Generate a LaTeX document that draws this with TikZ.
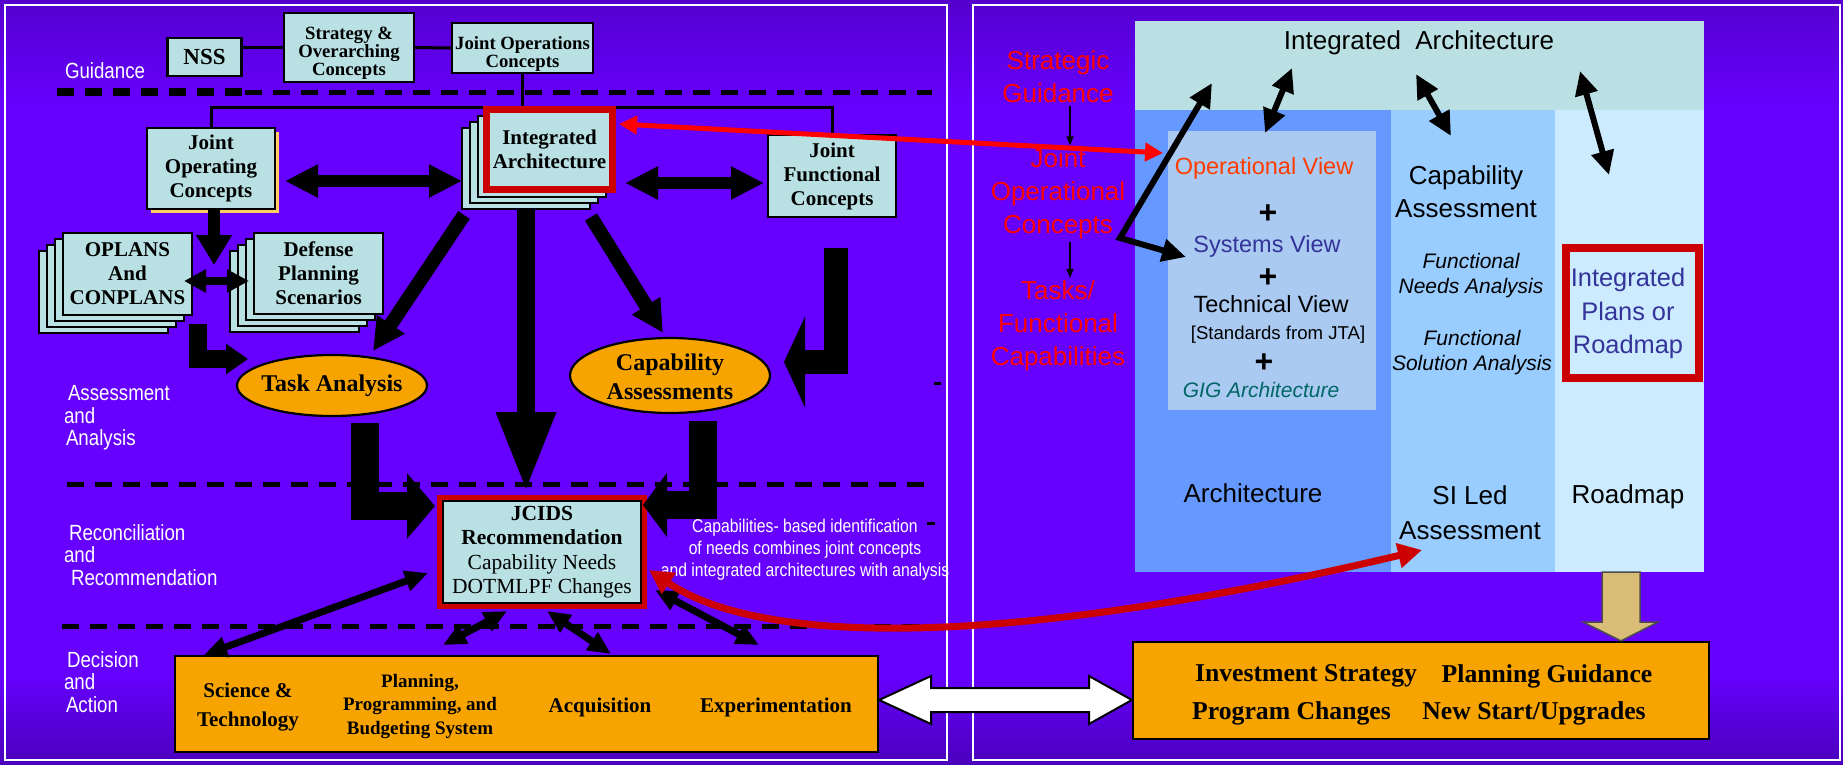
\documentclass[tikz,border=0pt]{standalone}
\usepackage{fontspec}
\setmainfont{Liberation Serif}
\setsansfont{Liberation Sans}
\newfontfamily\narrowsans[FakeStretch=0.85]{Liberation Sans}
\usetikzlibrary{arrows.meta,shapes.geometric,fit}

\definecolor{bgtop}{RGB}{85,0,205}
\definecolor{bgmid}{RGB}{102,0,255}
\definecolor{bgbot}{RGB}{75,0,188}
\definecolor{boxcyan}{RGB}{185,224,227}
\definecolor{boxorange}{RGB}{247,164,0}
\definecolor{shadowtan}{RGB}{255,204,102}
\definecolor{framered}{RGB}{204,0,0}
\definecolor{linkred}{RGB}{255,0,0}
\definecolor{headcyan}{RGB}{187,224,227}
\definecolor{colarch}{RGB}{102,153,255}
\definecolor{colarchin}{RGB}{170,202,242}
\definecolor{colsi}{RGB}{153,204,255}
\definecolor{colroad}{RGB}{204,235,255}
\definecolor{arrowtan}{RGB}{217,188,117}
\definecolor{opviewred}{RGB}{255,60,0}
\definecolor{sysblue}{RGB}{51,51,153}
\definecolor{gigteal}{RGB}{0,102,102}

\pgfdeclareverticalshading{slideshade}{100bp}{color(0bp)=(bgbot); color(25bp)=(bgbot); color(31bp)=(bgmid);
  color(68bp)=(bgmid); color(75bp)=(bgtop); color(100bp)=(bgtop)}

\newcommand{\nssfont}{\fontsize{23}{24}\selectfont\bfseries}
\newcommand{\topfont}{\fontsize{18.7}{18}\selectfont\bfseries}
\newcommand{\boxfont}{\fontsize{21}{24}\selectfont\bfseries}
\newcommand{\ovalfont}{\fontsize{24}{29}\selectfont\bfseries}
\newcommand{\jcidsfont}{\fontsize{21.5}{24.5}\selectfont}
\newcommand{\actfont}{\fontsize{21}{29}\selectfont\bfseries}
\newcommand{\ppbsfont}{\fontsize{19}{23.5}\selectfont\bfseries}
\newcommand{\investfont}{\fontsize{25.7}{37}\selectfont\bfseries}
\newcommand{\labelfont}{\narrowsans\fontsize{22}{22.5}\selectfont}
\newcommand{\notefont}{\narrowsans\fontsize{18.5}{22}\selectfont}
\newcommand{\bigsans}{\sffamily\fontsize{26}{33}\selectfont}
\newcommand{\viewfont}{\sffamily\fontsize{23.5}{28}\selectfont}
\newcommand{\smallsans}{\sffamily\fontsize{18.6}{22}\selectfont}
\newcommand{\itsans}{\sffamily\itshape\fontsize{21}{25}\selectfont}
\newcommand{\plusfont}{\sffamily\bfseries\fontsize{32}{32}\selectfont}

\tikzset{every picture/.style={line width=2pt}}
\tikzset{
  lightbox/.style={draw=black, fill=boxcyan, line width=2.2pt, inner sep=0pt, align=center},
  sheet/.style={draw=black, fill=boxcyan, line width=2pt},
  boxtext/.style={inner sep=0pt, align=center},
  orangebox/.style={draw=black, fill=boxorange, line width=2.2pt, inner sep=0pt},
  orangeoval/.style={ellipse, draw=black, fill=boxorange, line width=2.2pt, inner sep=0pt},
  sectiondash/.style={line width=5pt, dash pattern=on 17pt off 11pt},
  panel/.style={draw=white, line width=2pt},
  whitelabel/.style={text=white, font=\labelfont, align=left, inner sep=0pt, anchor=west},
  thinlink/.style={line width=3pt},
  bigboth/.style={line width=12pt, >={Triangle[length=33pt,width=31pt]}, <->},
  bigdown/.style={line width=12pt, -{Triangle[length=30pt,width=34pt]}},
  slimboth/.style={line width=8pt, >={Triangle[length=22pt,width=22pt]}, <->},
  diagarrow/.style={line width=14pt, -{Triangle[length=32pt,width=31pt]}},
  tallarrow/.style={line width=18pt, -{Triangle[length=80pt,width=55pt]}},
  jointarrow/.style={line width=7pt, >={Triangle[length=23pt,width=20pt]}, <->},
  viewarrow/.style={line width=6pt, >={Triangle[length=24pt,width=22pt]}, <->},
  tinyarrow/.style={line width=1.5pt, -{Triangle[length=9pt,width=7pt]}},
  redlink/.style={draw=linkred, line width=5pt, >={Triangle[length=18pt,width=18pt]}, <->},
  redcurve/.style={draw=framered, line width=7pt, >={Triangle[length=24pt,width=24pt]}, <->},
  redlabel/.style={text=linkred, font=\bigsans, align=center, inner sep=2pt},
  paneltext/.style={font=\bigsans, align=center, inner sep=0pt}
}

\begin{document}
\begin{tikzpicture}[x=1pt,y=1pt,yscale=-1]
\useasboundingbox (0,0) rectangle (1843,764);

%Shape: Background
\shade[shading=slideshade] (0,0) rectangle (1843,764);
%Shape: Panels
\draw[panel] (5,5) rectangle (947,760);
\draw[panel] (973,5) rectangle (1840,760);

%Straight Lines (section dividers)
\draw[sectiondash, line width=8pt] (57,92) -- (245,92);
\draw[sectiondash] (245,92) -- (932,92);
\draw[sectiondash] (67,484) -- (924,484);
\draw[sectiondash] (62,626) -- (928,626);

% Text Node (section labels)
\node[whitelabel] (guid) at (64,71) {Guidance};
\node[whitelabel] (assess) at (63,418) {\hspace*{4pt}Assessment\\and\\\hspace*{2pt}Analysis};
\node[whitelabel] (recon) at (63,555) {\hspace*{5pt}Reconciliation\\and\\\hspace*{7pt}Recommendation};
\node[whitelabel] (decis) at (63,682) {\hspace*{3pt}Decision\\and\\\hspace*{2pt}Action};

%Shape: Guidance boxes
\node[lightbox, minimum width=74pt, minimum height=38pt, font=\nssfont] (nss) at (204.5,57) {NSS};
\node[lightbox, minimum width=130pt, minimum height=69pt] (strat) at (349,47.5) {};
\node[boxtext, font=\topfont] at (349,53) {Strategy \&\\Overarching\\Concepts};
\node[lightbox, minimum width=141pt, minimum height=50pt] (jops) at (522.5,48) {};
\node[boxtext, font=\topfont] at (522.5,54) {Joint Operations\\Concepts};

%Straight Lines (guidance links)
\draw[thinlink] (strat.west -| nss.east) -- (strat.west);
\draw[thinlink] (strat.east) -- (jops.west);
\draw[thinlink] (jops.south) -- ++(0,33) coordinate (hub);

%Shape: Joint Operating Concepts
\fill[shadowtan] (151,132) rectangle (279,213);
\node[lightbox, minimum width=128pt, minimum height=81pt, font=\boxfont] (jopc) at (211,168.5) {Joint\\Operating\\Concepts};
%Shape: Joint Functional Concepts
\node[lightbox, minimum width=128pt, minimum height=82pt, font=\boxfont] (jfc) at (832,176) {Joint\\Functional\\Concepts};
\draw[thinlink] (jopc.north) |- (hub) -| (jfc.north);

%Shape: Integrated Architecture stack
\foreach \k in {3,2,1}
  \draw[sheet] (486-8*\k,110+6*\k) rectangle ++(128,81);
\node[lightbox, draw=framered, line width=7pt, minimum width=126pt, minimum height=80pt, font=\boxfont] (ia) at (549.5,149.5) {Integrated\\Architecture};

%Shape: OPLANS stack
\foreach \k in {3,2,1}
  \draw[sheet] (63-8*\k,233+6*\k) rectangle ++(129,82);
\node[lightbox, minimum width=129pt, minimum height=82pt, font=\boxfont] (oplans) at (127.5,274) {OPLANS\\And\\CONPLANS};
%Shape: Defense Planning Scenarios stack
\foreach \k in {3,2,1}
  \draw[sheet] (254-8*\k,233+6*\k) rectangle ++(129,81);
\node[lightbox, minimum width=129pt, minimum height=81pt, font=\boxfont] (dps) at (318.5,273.5) {Defense\\Planning\\Scenarios};

%Shape: Ellipses
\node[orangeoval, minimum width=190pt, minimum height=61pt] (task) at (332,385.5) {};
\node[boxtext, font=\ovalfont] at (task) {Task Analysis};
\node[orangeoval, minimum width=200pt, minimum height=75pt] (capa) at (670,375.5) {};
\node[boxtext, font=\ovalfont] at (670,377) {Capability\\Assessments};

%Shape: JCIDS
\node[lightbox, line width=1.5pt, minimum width=198pt, minimum height=102pt, font=\jcidsfont] (jcids) at (542,552)
  {\textbf{JCIDS}\\\textbf{Recommendation}\\Capability Needs\\DOTMLPF Changes};
\node[fit=(jcids), inner sep=3pt, draw=framered, line width=5pt] (jcidsframe) {};

%Shape: Decision and Action box
\node[orangebox, minimum width=703pt, minimum height=96pt] (decide) at (526.5,704) {};
\node[boxtext, font=\actfont] (sandt) at (248,707) {Science \&\\Technology};
\node[boxtext, font=\ppbsfont] (ppbs) at (420,706) {Planning,\\Programming, and\\Budgeting System};
\node[boxtext, font=\actfont] (acq) at (600,707) {Acquisition};
\node[boxtext, font=\actfont] (expt) at (776,707) {Experimentation};

% Text Node
\node[boxtext, text=white, font=\notefont] (capnote) at (805,550) {Capabilities- based identification\\of needs combines joint concepts\\and integrated architectures with analysis};

%Shape: small marks
\fill (934,381.5) rectangle (941,384.5);
\fill (927,521.5) rectangle (935,524.5);

%Straight Lines (block arrows)
\coordinate (jopcR) at (285,181);   \coordinate (iaL) at (462,181);
\coordinate (iaR) at (625,183);     \coordinate (jfcL) at (764,183);
\coordinate (jopcB) at (214,210);   \coordinate (jopcTip) at (214,265);
\coordinate (oplR) at (184,281);    \coordinate (dpsL) at (249,281);
\coordinate (oplB) at (198,324);    \coordinate (taskL) at (248,359);
\coordinate (iaBL) at (464,215);    \coordinate (taskTop) at (373,351);
\coordinate (iaB) at (526,210);     \coordinate (jcidsTop) at (526,492);
\coordinate (iaBR) at (591,217);    \coordinate (capaTop) at (663,333);
\coordinate (jfcB) at (835.5,248);  \coordinate (capaR) at (784,362);
\coordinate (taskB) at (364.5,423); \coordinate (jcidsL) at (435,506);
\coordinate (capaB) at (702.5,421); \coordinate (jcidsR) at (643,505);

\draw[bigboth] (jopcR) -- (iaL);
\draw[bigboth] (iaR) -- (jfcL);
\draw[bigdown] (jopcB) -- (jopcTip);
\draw[slimboth] (oplR) -- (dpsL);
\draw[line width=18pt, -{Triangle[length=22pt,width=29pt]}] (oplB) |- (taskL);
\draw[diagarrow] (iaBL) -- (taskTop);
\draw[tallarrow] (iaB) -- (jcidsTop);
\draw[diagarrow] (iaBR) -- (capaTop);
\draw[line width=24pt, -{Triangle[length=21pt,width=90pt]}] (jfcB) |- (capaR);
\draw[line width=28pt, -{Triangle[length=28pt,width=64pt]}] (taskB) |- (jcidsL);
\draw[line width=28pt, -{Triangle[length=24pt,width=63pt]}] (capaB) |- (jcidsR);

%Straight Lines (JCIDS to action)
\draw[jointarrow] (428,573) coordinate (d1a) -- (204,655) coordinate (d1b);
\draw[jointarrow] (507,611) coordinate (d2a) -- (443,645) coordinate (d2b);
\draw[jointarrow] (547,611) coordinate (d3a) -- (611,654) coordinate (d3b);
\draw[jointarrow] (655,590) coordinate (d4a) -- (759,645) coordinate (d4b);

%Shape: Right panel columns
\fill[headcyan] (1135,21) rectangle (1704,110);
\fill[colarch] (1135,110) rectangle (1391,572);
\fill[colsi] (1391,110) rectangle (1555,572);
\fill[colroad] (1555,110) rectangle (1704,572);
\fill[colarchin] (1168,131) rectangle (1376,410);

% Text Node (right panel)
\node[paneltext] (iahead) at (1419,43) {Integrated\ \ Architecture};
\node[redlabel] (sg) at (1058,76.5) {Strategic\\Guidance};
\node[redlabel] (jocl) at (1058,193.5) {Joint\\Operational\\Concepts};
\node[redlabel] (tfc) at (1058,326) {Tasks/\\Functional\\Capabilities};
\draw[tinyarrow] ([xshift=12pt]sg.south) -- ([xshift=12pt]jocl.north);
\draw[tinyarrow] ([xshift=12pt]jocl.south) -- ([xshift=12pt]tfc.north);

\node[boxtext, text=opviewred, font=\viewfont] (opview) at (1264,168) {Operational View};
\node[boxtext, font=\plusfont] (plusa) at (1268,214) {+};
\node[boxtext, text=sysblue, font=\viewfont] (sysview) at (1267,246) {Systems View};
\node[boxtext, font=\plusfont] (plusb) at (1268,278) {+};
\node[boxtext, font=\viewfont] (techview) at (1271,304) {Technical View};
\node[boxtext, font=\smallsans] (jta) at (1278,335) {[Standards from JTA]};
\node[boxtext, font=\plusfont] (plusc) at (1264,363) {+};
\node[boxtext, text=gigteal, font=\itsans] (gig) at (1261,390) {GIG Architecture};

\node[boxtext, font=\bigsans] (capassess) at (1466,191.5) {Capability\\Assessment};
\node[boxtext, font=\itsans] (fna) at (1471,275.5) {Functional\\Needs Analysis};
\node[boxtext, font=\itsans] (fsa) at (1472,353) {Functional\\Solution Analysis};

\node[lightbox, fill=colroad, draw=framered, line width=8pt, minimum width=133pt, minimum height=130pt] (plans) at (1632.5,313) {};
\node[boxtext, text=sysblue, font={\sffamily\fontsize{25.4}{33.5}\selectfont}] at (1628,313.5) {Integrated\\Plans or\\Roadmap};

\node[paneltext] (archlbl) at (1253,493) {Architecture};
\node[paneltext, font={\sffamily\fontsize{26}{35}\selectfont}] (silbl) at (1470,512.5) {SI Led\\Assessment};
\node[paneltext] (roadlbl) at (1628,497) {Roadmap};

%Straight Lines (right panel arrows)
\draw[viewarrow] (1292,68) coordinate (h1) -- (1265,133) coordinate (v1);
\draw[viewarrow] (1416,74) coordinate (h2) -- (1451,136) coordinate (v2);
\draw[viewarrow] (1580,71) coordinate (h3) -- (1609,175) coordinate (v3);
\coordinate (jocPt) at (1120,238);
\draw[viewarrow, line join=miter] (1212,83) coordinate (hTip) -- (jocPt) -- (1186,257) coordinate (svTip);

%Shape: Investment box
\node[orangebox, minimum width=576pt, minimum height=97pt] (invest) at (1421,690.5) {};
\node[boxtext, font=\investfont] (invs) at (1306,676) {Investment Strategy};
\node[boxtext, font=\investfont] (plg) at (1547,676) {Planning Guidance};
\node[boxtext, font=\investfont] (prc) at (1291.5,713) {Program Changes};
\node[boxtext, font=\investfont] (nsu) at (1534,713) {New Start/Upgrades};

%Shape: Roadmap to investment arrow
\filldraw[fill=arrowtan, draw=black!70, line width=1.5pt]
  (1602,572) -- (1640,572) -- (1640,622) -- (1658,622) -- (invest.north -| 1621,0) -- (1583,622) -- (1602,622) -- cycle;
%Shape: Decision to investment arrow
\filldraw[fill=white, draw=black, line width=2pt]
  (decide.east |- 0,700) -- (931,676) -- (931,688) -- (1089,688) -- (1089,676)
  -- (invest.west |- 0,700) -- (1089,724) -- (1089,712) -- (931,712) -- (931,724) -- cycle;

%Red links
\coordinate (iaRed) at (619,124);
\coordinate (opvRed) at (1163,153);
\draw[redlink] (iaRed) -- (opvRed);
\coordinate (jcidsRed) at (649,570);
\coordinate (siRed) at (1422,550);
\draw[redcurve] (jcidsRed) .. controls (760,645) and (1000,650) .. (siRed);
\end{tikzpicture}
\end{document}
